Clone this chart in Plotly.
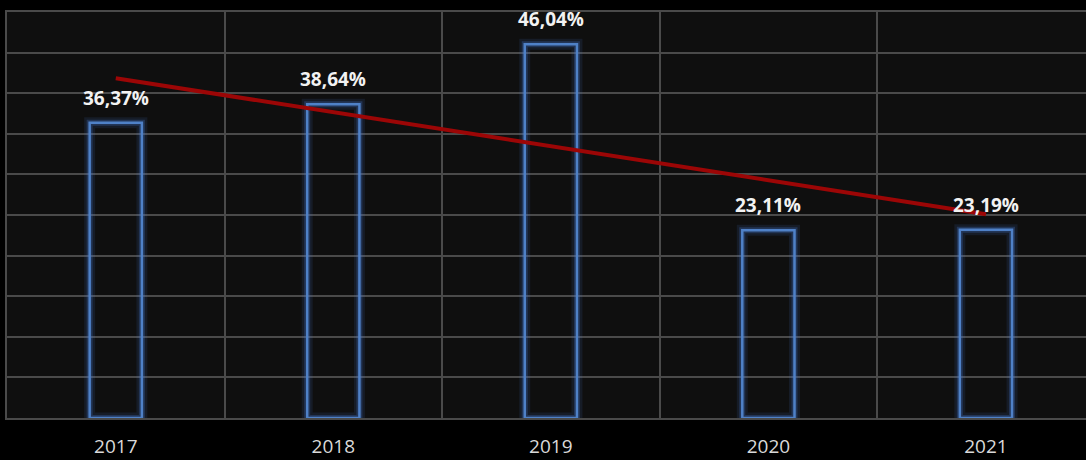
import numpy as np
import plotly.graph_objects as go

years = ["2017", "2018", "2019", "2020", "2021"]
values = [36.37, 38.64, 46.04, 23.11, 23.19]
labels = ["36,37%", "38,64%", "46,04%", "23,11%", "23,19%"]

x = list(range(len(years)))

# linear trendline through the bar values
slope, icpt = np.polyfit(x, values, 1)
trend = [slope * i + icpt for i in x]

fig = go.Figure()

# soft glow around the hollow bars
for w, col in [(11, "rgba(70,120,210,0.12)"), (6, "rgba(70,120,210,0.28)")]:
    fig.add_trace(go.Bar(
        x=x, y=values, width=0.24,
        marker=dict(color="rgba(0,0,0,0)", line=dict(color=col, width=w)),
        hoverinfo="skip", showlegend=False,
    ))

fig.add_trace(go.Bar(
    x=x, y=values, width=0.24,
    marker=dict(color="rgba(0,0,0,0)", line=dict(color="#4f81c7", width=2.5)),
    showlegend=False,
))

fig.add_trace(go.Scatter(
    x=x, y=trend, mode="lines",
    line=dict(color="#9c0606", width=4),
    showlegend=False,
))

for i, v in enumerate(values):
    fig.add_annotation(
        x=i, y=v, text=labels[i], showarrow=False,
        yanchor="bottom", yshift=10,
        font=dict(family="Open Sans", size=19, color="#f2f2f2", weight="bold"),
    )

fig.update_layout(
    width=1086, height=460,
    margin=dict(l=7, r=0, t=12, b=42),
    paper_bgcolor="#000000",
    plot_bgcolor="#0f0f0f",
    barmode="overlay",
    xaxis=dict(
        range=[-0.5, 4.46],
        tickvals=x, ticktext=years,
        showgrid=False, zeroline=False,
        tickfont=dict(family="Open Sans", size=19, color="#d9d9d9"),
        ticks="", ticklabelstandoff=10,
        minor=dict(tickvals=[-0.5, 0.5, 1.5, 2.5, 3.5, 4.5], showgrid=True,
                   gridcolor="#4a4a4a", gridwidth=2),
        showline=True, mirror=True, linecolor="#4a4a4a", linewidth=2,
    ),
    yaxis=dict(
        range=[0, 50], dtick=5,
        showticklabels=False,
        gridcolor="#4a4a4a", gridwidth=2,
        zeroline=False,
        showline=True, linecolor="#4a4a4a", linewidth=2,
    ),
)

fig.write_html("out.html", config={"displayModeBar": False},
               post_script="document.body.style.margin='0px';")
